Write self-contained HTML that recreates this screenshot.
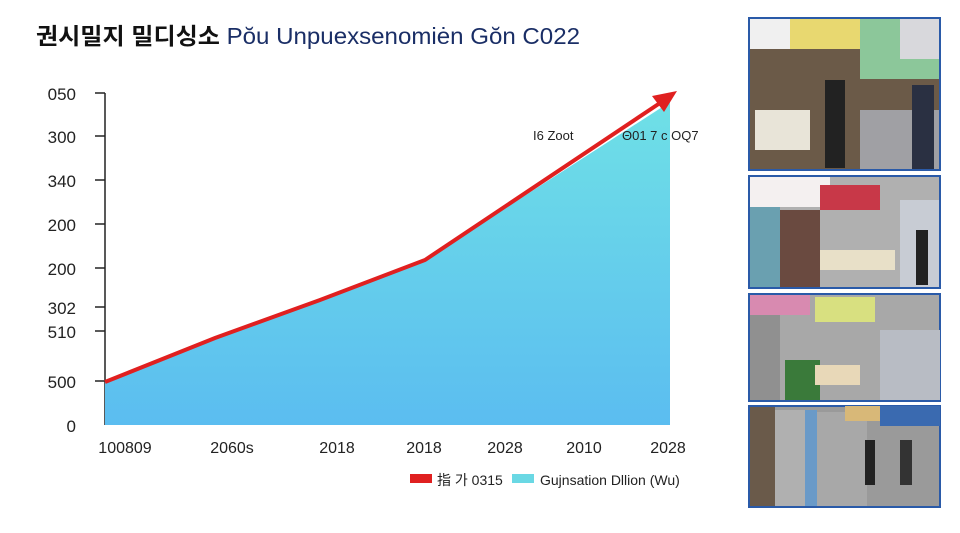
<!DOCTYPE html>
<html><head><meta charset="utf-8"><style>
body{margin:0;width:960px;height:528px;background:#fff;overflow:hidden;font-family:"Liberation Sans","Noto Sans CJK KR",sans-serif;}
</style></head><body>
<svg width="960" height="528" viewBox="0 0 960 528" xmlns="http://www.w3.org/2000/svg" font-family="Liberation Sans, Noto Sans CJK KR, sans-serif">
<defs>
<linearGradient id="g" x1="0" y1="0" x2="0" y2="1"><stop offset="0" stop-color="#6fe0e6"/><stop offset="1" stop-color="#5bbdf0"/></linearGradient>
</defs>
<text x="36" y="44" font-size="23" fill="#111" font-weight="bold" textLength="544" lengthAdjust="spacingAndGlyphs">권시밀지 밀디싱소 <tspan fill="#1a2e66" font-weight="normal">Pŏu Unpuexsenomiėn Gŏn C022</tspan></text>
<g font-size="17" fill="#222" text-anchor="end">
<text x="76" y="100">050</text><text x="76" y="143">300</text><text x="76" y="187">340</text>
<text x="76" y="231">200</text><text x="76" y="275">200</text><text x="76" y="314">302</text>
<text x="76" y="338">510</text><text x="76" y="388">500</text><text x="76" y="432">0</text>
</g>
<g stroke="#222" stroke-width="1.5">
<line x1="105" y1="93" x2="105" y2="425"/>
<line x1="95" y1="93" x2="105" y2="93"/><line x1="95" y1="136" x2="105" y2="136"/>
<line x1="95" y1="180" x2="105" y2="180"/><line x1="95" y1="224" x2="105" y2="224"/>
<line x1="95" y1="268" x2="105" y2="268"/><line x1="95" y1="307" x2="105" y2="307"/>
<line x1="95" y1="331" x2="105" y2="331"/><line x1="95" y1="381" x2="105" y2="381"/>
</g>
<polygon points="105,382 215,338 320,300 425,260 670,102 670,425 105,425" fill="url(#g)"/>
<polyline points="105,382 215,338 320,300 425,260 660,103" fill="none" stroke="#e02020" stroke-width="4"/>
<polygon points="677,91 652,96 664,112" fill="#e02020"/>
<text x="533" y="140" font-size="13" fill="#222">I6 Zoot</text>
<text x="622" y="140" font-size="13" fill="#222">Θ01 7 c OQ7</text>
<g font-size="16" fill="#222" text-anchor="middle">
<text x="125" y="453">100809</text><text x="232" y="453">2060s</text><text x="337" y="453">2018</text>
<text x="424" y="453">2018</text><text x="505" y="453">2028</text><text x="584" y="453">2010</text><text x="668" y="453">2028</text>
</g>
<rect x="410" y="474" width="22" height="9" fill="#e02020"/>
<text x="437" y="485" font-size="14" fill="#222">指 가 0315</text>
<rect x="512" y="474" width="22" height="9" fill="#6ad8e4"/>
<text x="540" y="485" font-size="14" fill="#222">Gujnsation Dllion (Wu)</text>
<g>
<rect x="749" y="18" width="191" height="152" fill="#6b5a48" stroke="#2a5aa8" stroke-width="2"/>
<rect x="750" y="19" width="189" height="30" fill="#e8d870"/><rect x="750" y="19" width="40" height="30" fill="#f0f0f0"/>
<rect x="860" y="19" width="79" height="60" fill="#8cc79a"/><rect x="900" y="19" width="39" height="40" fill="#d8d8dc"/>
<rect x="860" y="110" width="79" height="59" fill="#a0a0a4"/>
<rect x="755" y="110" width="55" height="40" fill="#e8e4d8"/>
<rect x="825" y="80" width="20" height="88" fill="#222"/><rect x="912" y="85" width="22" height="84" fill="#2a3042"/>
<rect x="749" y="176" width="191" height="112" fill="#b0b0b0" stroke="#2a5aa8" stroke-width="2"/>
<rect x="750" y="177" width="80" height="30" fill="#f4f0f0"/><rect x="820" y="185" width="60" height="25" fill="#c83848"/>
<rect x="750" y="207" width="30" height="80" fill="#6aa0b0"/><rect x="780" y="210" width="40" height="77" fill="#6a4a40"/>
<rect x="820" y="250" width="75" height="20" fill="#e8e0c8"/><rect x="900" y="200" width="39" height="87" fill="#c8ccd4"/>
<rect x="916" y="230" width="12" height="55" fill="#222"/>
<rect x="749" y="294" width="191" height="107" fill="#a8a8a8" stroke="#2a5aa8" stroke-width="2"/>
<rect x="750" y="295" width="60" height="20" fill="#d88ab0"/><rect x="815" y="297" width="60" height="25" fill="#d8e080"/>
<rect x="750" y="315" width="30" height="85" fill="#909090"/><rect x="785" y="360" width="35" height="40" fill="#3a7a3a"/>
<rect x="815" y="365" width="45" height="20" fill="#e8d8b8"/><rect x="880" y="330" width="60" height="70" fill="#b8bcc4"/>
<rect x="749" y="406" width="191" height="101" fill="#9a9a9a" stroke="#2a5aa8" stroke-width="2"/>
<rect x="750" y="407" width="25" height="99" fill="#6a5a4a"/><rect x="775" y="410" width="30" height="96" fill="#b0b0b0"/>
<rect x="805" y="410" width="12" height="96" fill="#6a9ac8"/><rect x="817" y="412" width="50" height="94" fill="#a8a8a8"/>
<rect x="845" y="406" width="35" height="15" fill="#d8b878"/><rect x="880" y="406" width="60" height="20" fill="#3a6ab0"/>
<rect x="865" y="440" width="10" height="45" fill="#222"/><rect x="900" y="440" width="12" height="45" fill="#333"/>
</g>
</svg>
</body></html>
